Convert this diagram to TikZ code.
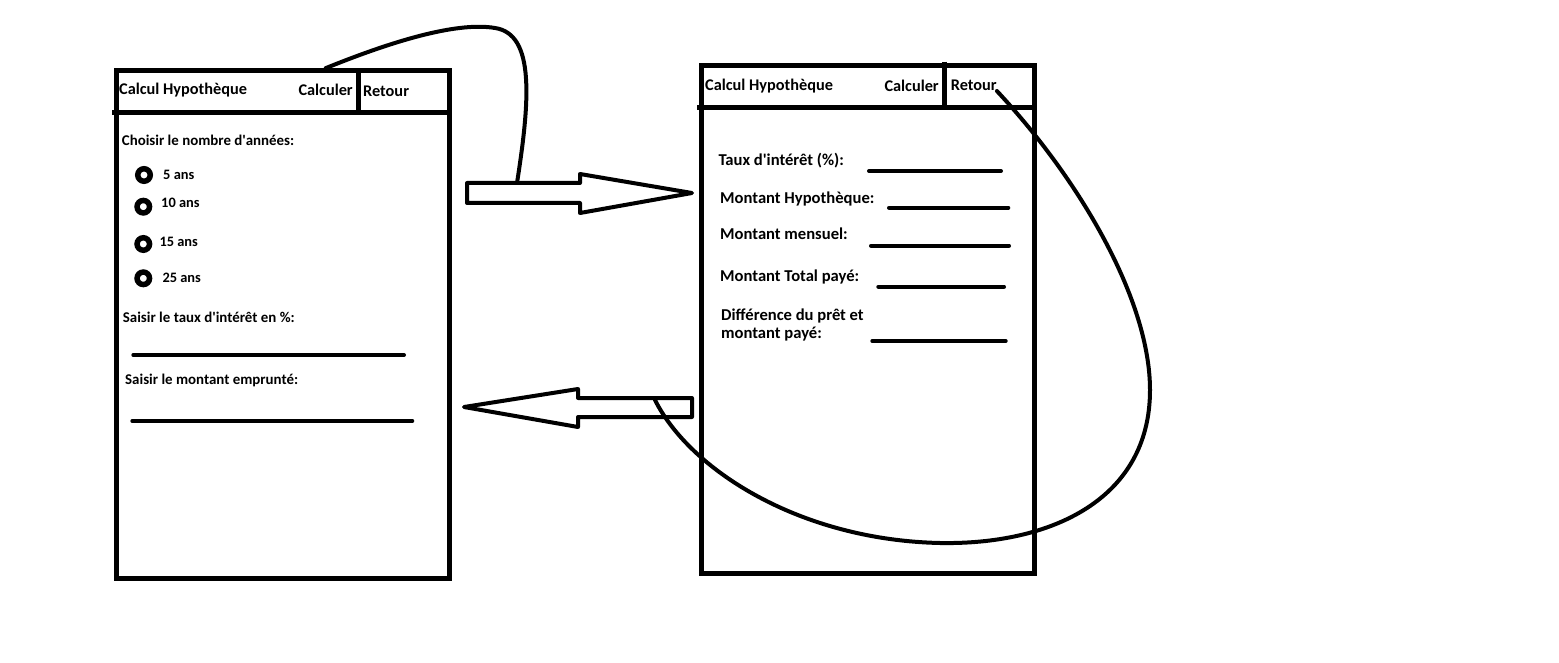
\documentclass[tikz,border=0pt]{standalone}
\usepackage{fontspec}
\setmainfont{Carlito}
\usetikzlibrary{positioning}
\definecolor{inkblack}{RGB}{0, 0, 0}
\newcommand{\apos}{\textquotesingle}

\begin{document}
\begin{tikzpicture}[
    x=1pt, y=-1pt,
    panel/.style={
        rectangle,
        draw=inkblack,
        line width=5pt,
        minimum width=333pt,
        minimum height=508pt,
        inner sep=0pt
    },
    rule/.style={
        line width=5pt,
        inkblack
    },
    head/.style={
        anchor=base west,
        inner sep=0pt,
        font=\bfseries\fontsize{16.3}{19}\selectfont
    },
    label/.style={
        anchor=base west,
        inner sep=0pt,
        font=\bfseries\fontsize{14.9}{18}\selectfont
    },
    choice/.style={
        anchor=base west,
        inner sep=0pt,
        font=\bfseries\fontsize{14.4}{17}\selectfont
    },
    result/.style={
        anchor=base west,
        inner sep=0pt,
        font=\bfseries\fontsize{16.6}{19}\selectfont
    },
    radio/.style={
        circle,
        draw=inkblack,
        line width=5.5pt,
        minimum size=12.5pt,
        inner sep=0pt
    },
    field/.style={
        line width=4pt,
        line cap=round,
        inkblack
    },
    bigarrow/.style={
        line width=4pt,
        line join=round,
        inkblack
    },
    link/.style={
        line width=4pt,
        line cap=round,
        inkblack
    }
]

\useasboundingbox (0,0) rectangle (1559,663);

% Panels
\node[panel] (entry) at (282.5,324.7) {};
\node[panel] (output) at (868.4,319.9) {};

% Title bars
\draw[rule] (112,112.5) -- (entry.east |- 0,112.5);
\draw[rule] (358.3,0 |- entry.north) -- (358.3,112.5);
\draw[rule] (697,107.5) -- (output.east |- 0,107.5);
\draw[rule] (944.5,61.7) -- (944.5,107.5);

\node[head] (titleA) at (119,95) {Calcul Hypothèque};
\node[head] (calcA) at (298.3,96) {Calculer};
\node[head] (retA) at (363,96.7) {Retour};
\node[head] (titleB) at (705,90.7) {Calcul Hypothèque};
\node[head] (calcB) at (884.3,91.7) {Calculer};
\node[head] (retB) at (950.7,90.7) {Retour};

% Entry form
\node[label] (years) at (121.7,146) {Choisir le nombre d\apos années:};
\node[radio] (r5) at (144,175) {};
\node[radio] (r10) at (143.3,206.7) {};
\node[radio] (r15) at (143.3,244) {};
\node[radio] (r25) at (143.3,278.3) {};
\node[choice] (y5) at (163,180) {5 ans};
\node[choice] (y10) at (161,208) {10 ans};
\node[choice] (y15) at (159.3,247) {15 ans};
\node[choice] (y25) at (162.3,283) {25 ans};

\node[label] (rate) at (122.7,322) {Saisir le taux d\apos intérêt en \%:};
\draw[field] (133.3,355) -- (404,355);
\node[label] (amount) at (125,384) {Saisir le montant emprunté:};
\draw[field] (132.3,421) -- (412.3,421);

% Results
\node[result] (resrate) at (718.3,166) {Taux d\apos intérêt (\%):};
\draw[field] (869,171) -- (1001,171);
\node[result] (resloan) at (720,203.3) {Montant Hypothèque:};
\draw[field] (889,207.7) -- (1008.3,207.7);
\node[result] (resmonth) at (720,240) {Montant mensuel:};
\draw[field] (871,245.7) -- (1009,245.7);
\node[result] (restotal) at (720,281) {Montant Total payé:};
\draw[field] (878.3,286.7) -- (1004,286.7);
\node[result] (resdiff) at (721,320) {Différence du prêt et};
\node[result] (resdiff2) at (721,338.3) {montant payé:};
\draw[field] (872.3,341) -- (1005.7,341);

% Block arrows
\draw[bigarrow] (467,183) -- (580,183) -- (580,174) -- (692,193)
    -- (580,213) -- (580,203) -- (467,203) -- cycle;
\draw[bigarrow] (692,398) -- (578,398) -- (578,389) -- (464,407)
    -- (578,427) -- (578,417) -- (692,417) -- cycle;
\coordinate (fwd) at (517,183);
\coordinate (back) at (655,400);

% Links
\draw[link] (calcA.north |- entry.north) .. controls (400,38) and (460,22) .. (495,28)
    .. controls (535,34) and (530,100) .. (fwd);
\draw[link] (retB.south east) .. controls (1080,180) and (1150,300) .. (1150,390)
    .. controls (1150,500) and (1050,545) .. (940,543)
    .. controls (800,540) and (690,470) .. (back);

\end{tikzpicture}
\end{document}
